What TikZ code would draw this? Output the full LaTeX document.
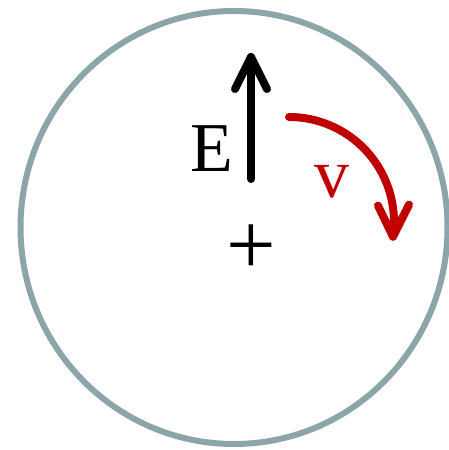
\documentclass[tikz,border=0pt]{standalone}
\usepackage{fontspec}
\setmainfont{Liberation Serif}
\definecolor{ringgray}{RGB}{139,165,168}
\definecolor{vred}{RGB}{192,0,0}
\begin{document}
\begin{tikzpicture}[x=1pt,y=1pt,
  ring/.style={draw=ringgray,line width=6pt},
  earrow/.style={draw=black,line width=8pt,line cap=round,line join=round},
  varrow/.style={draw=vred,line width=8pt,line cap=round,line join=round},
  biglabel/.style={inner sep=0pt,font=\fontsize{70}{70}\selectfont}]
\useasboundingbox (0,0) rectangle (449,450);
% ring
\coordinate (c) at (234,222.5);
\draw[ring] (c) ellipse[x radius=213.5, y radius=216.5];
% E field arrow
\coordinate (Etail) at (251,271);
\coordinate (Etip) at (251,393);
\draw[earrow] (Etail) -- (Etip);
\draw[earrow] ([shift={(-16,-32)}]Etip) -- (Etip) -- ([shift={(16,-32)}]Etip);
\node[biglabel] (E) at (212,301) {E};
% plus
\node[inner sep=0pt,font=\fontsize{88}{88}\selectfont] (plus) at (251,200) {+};
% velocity arrow
\coordinate (vstart) at (289,333);
\draw[varrow] (vstart) arc[start angle=90, end angle=-8, radius=105] coordinate (vtip);
\draw[varrow] ([shift={(-15,31)}]vtip) -- (vtip) -- ([shift={(16,32)}]vtip);
\node[biglabel,text=vred] (v) at (332,268) {v};
\end{tikzpicture}
\end{document}
